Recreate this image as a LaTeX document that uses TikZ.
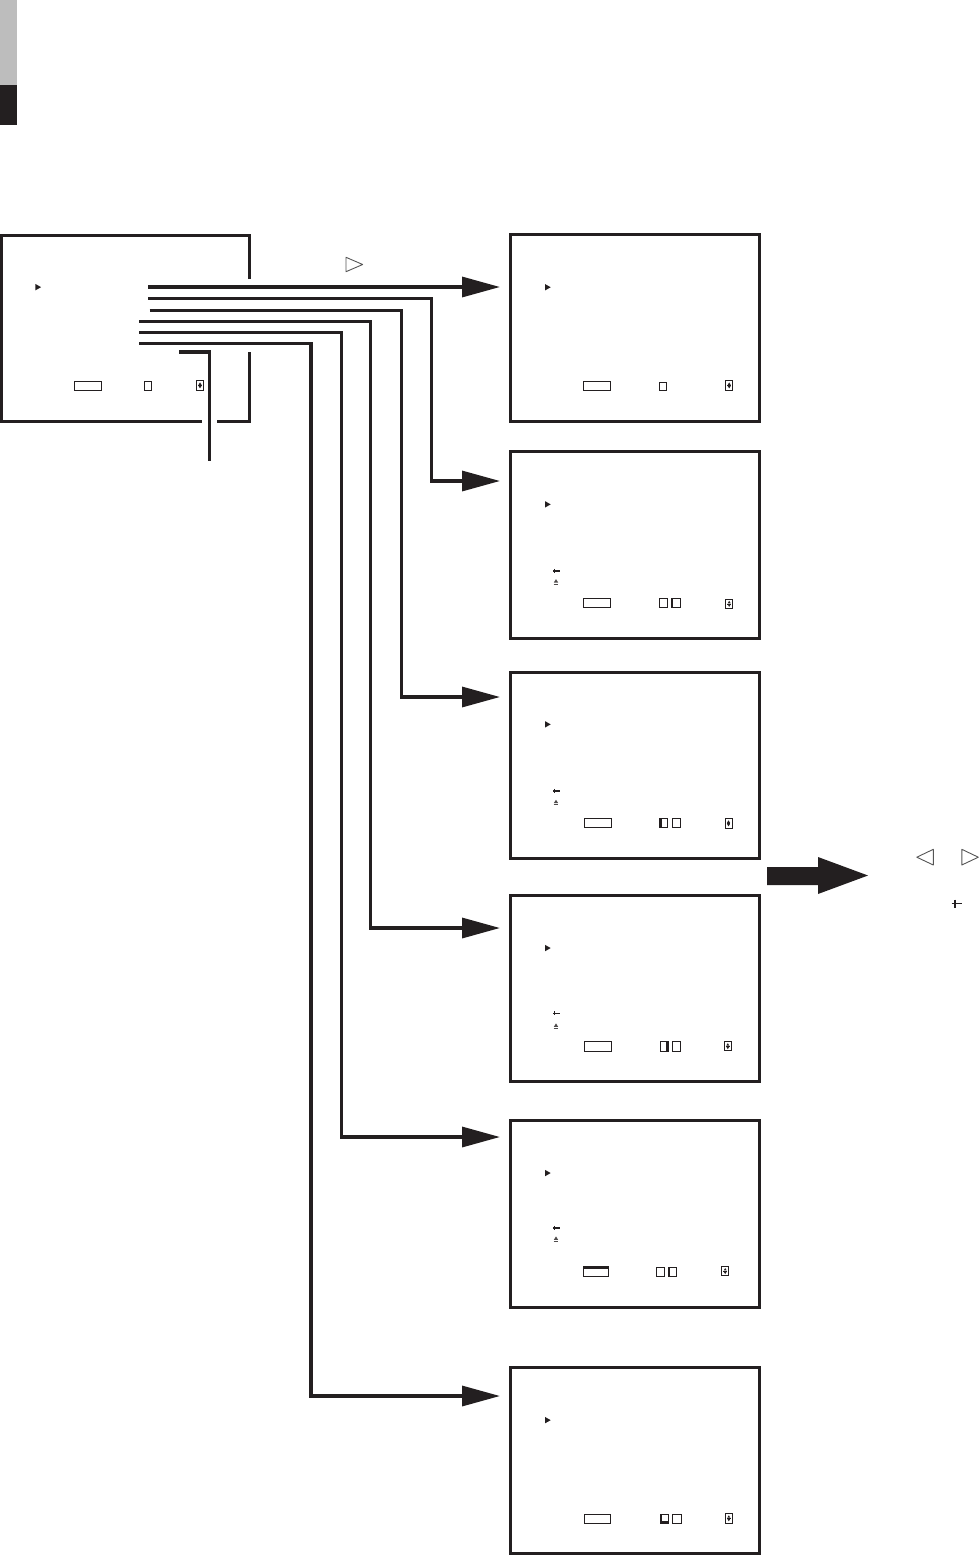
\documentclass[tikz,border=0pt]{standalone}
\usetikzlibrary{arrows.meta}
\definecolor{ink}{HTML}{231F20}
\definecolor{barg}{HTML}{BDBDBD}
\definecolor{tri}{HTML}{555555}
\tikzset{
  screen/.style={draw=ink, line width=3pt, minimum width=249pt, minimum height=186.5pt, inner sep=0pt, outer sep=0pt},
  boxline/.style={draw=ink, line width=3pt},
  conn/.style={draw=ink, line width=3.3pt},
  arr/.style={conn, -{Triangle[length=38pt,width=20pt]}},
  fine/.style={draw=ink, line width=1pt},
  thickedge/.style={draw=ink, line width=2.6pt},
  outlinetri/.style={draw=tri, line width=0.9pt, line join=round},
  pointer/.pic={\fill[ink] (-2.7,-3.2) -- (3,0) -- (-2.7,3.2) -- cycle;},
  retsym/.pic={\draw[ink,line width=1.3pt] (-3.2,0) -- (3.5,0) (-1.8,-2.2) -- (-1.8,1.8);},
  ejectsym/.pic={\fill[ink!80] (-2.2,0.8) -- (2.2,0.8) -- (0,-2.6) -- cycle; \draw[ink!80,line width=0.9pt] (-2.3,2.2) -- (2.3,2.2);},
  updown/.pic={\draw[fine] (0,0) rectangle (7,9.6);
    \fill[ink] (2,4.2) -- (5,4.2) -- (3.5,1.8) -- cycle;
    \fill[ink] (2,5.4) -- (5,5.4) -- (3.5,7.8) -- cycle;
    \draw[ink,line width=0.6pt] (1.6,4.8) -- (5.4,4.8);},
}
\begin{document}
\begin{tikzpicture}[x=1pt,y=-1pt]
\useasboundingbox (0,0) rectangle (979,1555);

% side bar
\fill[barg] (0,0) rectangle (17,85);
\fill[ink] (0,85) rectangle (17,125);

% main menu screen
\node[minimum width=248pt, minimum height=186.3pt, inner sep=0pt] (main) at (125.7,328.2) {};
\draw[boxline] (249.7,279) -- (249.7,235) -- (1.7,235) -- (1.7,421.3) -- (202,421.3);
\draw[boxline] (217,421.3) -- (249.7,421.3) -- (249.7,352);
\begin{scope}[shift={(main.north west)}]
  \pic at (36.6,52.3) {pointer};
  \draw[fine] (73,146.7) rectangle (99.6,155.3);
  \draw[fine] (143,146.7) rectangle (150,155.3);
  \pic at (195,145.7) {updown};
\end{scope}

% sub screens
\node[screen] (b1) at (634.5,328.2) {};
\node[screen] (b2) at (634.5,545) {};
\node[screen] (b3) at (634.5,765.6) {};
\node[screen] (b4) at (634.5,988.6) {};
\node[screen] (b5) at (634.5,1214) {};
\node[screen] (b6) at (634.5,1460.7) {};

\begin{scope}[shift={(b1.north west)}]
  \pic at (37.7,52.3) {pointer};
  \draw[fine] (73.3,146.7) rectangle (100.3,155.3);
  \draw[fine] (149.7,147.3) rectangle (156.3,155.3);
  \pic at (215.7,145.7) {updown};
\end{scope}
\begin{scope}[shift={(b2.north west)}]
  \pic at (37.7,52.6) {pointer};
  \pic at (46,119.3) {retsym};
  \pic at (46,130) {ejectsym};
  \draw[fine] (73.3,146.6) rectangle (100.7,156);
  \draw[fine] (149.7,147) rectangle (157.3,156);
  \draw[fine] (161,147) rectangle (170,156);
  \draw[thickedge] (161.8,147) -- (161.8,156);
  \pic at (215.7,147.3) {updown};
\end{scope}
\begin{scope}[shift={(b3.north west)}]
  \pic at (37.7,52) {pointer};
  \pic at (46,118.7) {retsym};
  \pic at (46,130) {ejectsym};
  \draw[fine] (74,146) rectangle (101.4,155.4);
  \draw[fine] (149.7,146) rectangle (157.7,155.4);
  \draw[thickedge] (150.5,146) -- (150.5,155.4);
  \draw[fine] (162,146) rectangle (170,155.4);
  \pic at (215,146.2) {updown};
\end{scope}
\begin{scope}[shift={(b4.north west)}]
  \pic at (37.7,52.7) {pointer};
  \pic at (46,118.3) {retsym};
  \pic at (46,130.7) {ejectsym};
  \draw[fine] (74,146) rectangle (101.7,155.7);
  \draw[fine] (150,146) rectangle (158.3,155.7);
  \draw[thickedge] (157.5,146) -- (157.5,155.7);
  \draw[fine] (162.3,146) rectangle (170.7,155.7);
  \pic at (214.3,146) {updown};
\end{scope}
\begin{scope}[shift={(b5.north west)}]
  \pic at (37.7,52.3) {pointer};
  \pic at (46,107.3) {retsym};
  \pic at (46,118.3) {ejectsym};
  \draw[fine] (73.3,146.3) rectangle (98.7,155.7);
  \draw[thickedge] (73.3,146.5) -- (98.7,146.5);
  \draw[fine] (146.3,146.3) rectangle (154.7,155.7);
  \draw[fine] (158.3,146.3) rectangle (166.7,155.7);
  \draw[thickedge] (159.1,146.3) -- (159.1,155.7);
  \pic at (211.7,145.5) {updown};
\end{scope}
\begin{scope}[shift={(b6.north west)}]
  \pic at (37.7,52.7) {pointer};
  \draw[fine] (74.3,147) rectangle (100.7,156);
  \draw[fine] (150.3,147) rectangle (158.7,156);
  \draw[thickedge] (150.3,155.2) -- (158.7,155.2) (151,147) -- (151,156);
  \draw[fine] (162.3,147) rectangle (171,156);
  \pic at (215.3,146) {updown};
\end{scope}

% connectors
\coordinate (s1) at (148,287);
\coordinate (s2) at (148,298.3);
\coordinate (s3) at (149.7,310.7);
\coordinate (s4) at (139,321.7);
\coordinate (s5) at (139,332.3);
\coordinate (s6) at (139,343.3);
\coordinate (t1) at (500,287);
\coordinate (k2) at (431.7,481);   \coordinate (t2) at (500,481);
\coordinate (k3) at (401.7,697);   \coordinate (t3) at (500,697);
\coordinate (k4) at (370.3,928);   \coordinate (t4) at (500,928);
\coordinate (k5) at (341.7,1137);  \coordinate (t5) at (500,1137);
\coordinate (k6) at (311,1396);    \coordinate (t6) at (500,1396);
\draw[arr] (s1) -- (t1);
\draw[arr] (s2) -| (k2) -- (t2);
\draw[arr] (s3) -| (k3) -- (t3);
\draw[arr] (s4) -| (k4) -- (t4);
\draw[arr] (s5) -| (k5) -- (t5);
\draw[arr] (s6) -| (k6) -- (t6);

% exit line
\coordinate (e1) at (179,352);
\coordinate (e2) at (209.3,460.5);
\draw[conn] (e1) -| (e2);

% right-cursor symbol above first arrow
\draw[outlinetri] (346,257.3) -- (362.7,264.5) -- (346,271.7) -- cycle;

% big arrow
\fill[ink] (767,867) -- (818,867) -- (818,857) -- (868,875.5) -- (818,894) -- (818,885) -- (767,885) -- cycle;

% left / right cursor symbols
\draw[outlinetri] (933.3,849.3) -- (916.8,857.2) -- (933.3,865) -- cycle;
\draw[outlinetri] (961.8,849.3) -- (978.3,857.2) -- (961.8,865) -- cycle;
\draw[ink,line width=1.6pt] (951.7,903.5) -- (961.7,903.5) (955,899.5) -- (955,908);
\end{tikzpicture}
\end{document}
